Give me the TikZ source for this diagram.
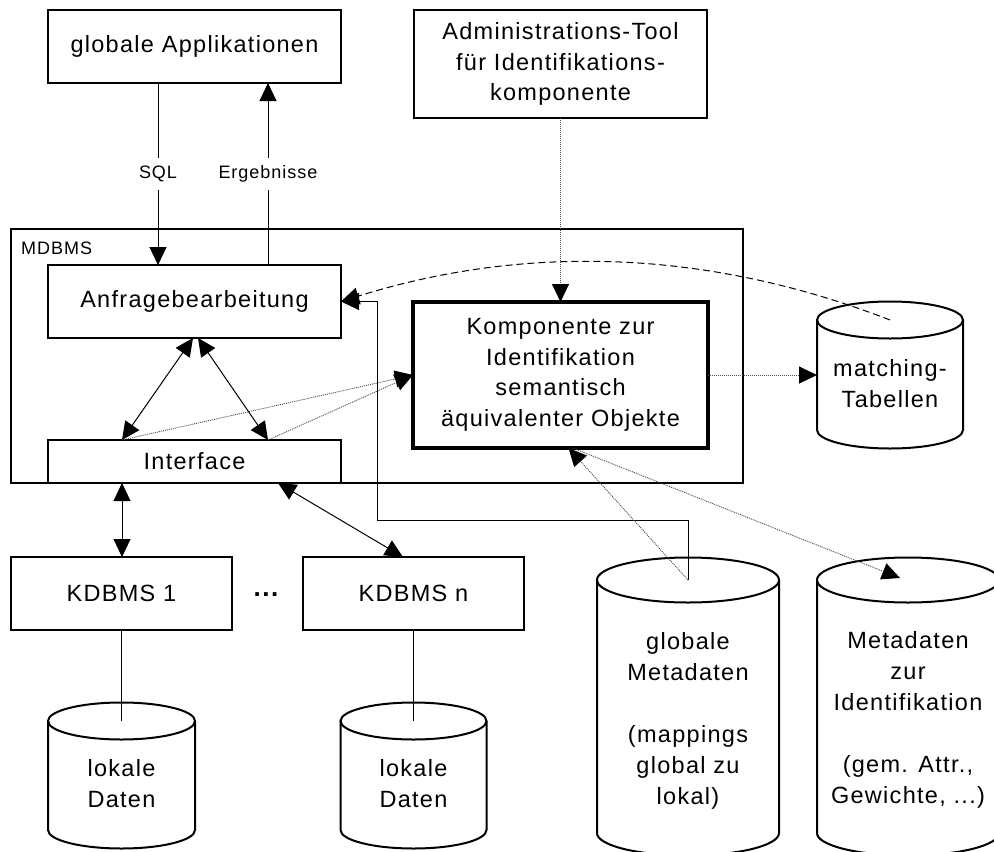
\documentclass[tikz,border=0pt]{standalone}
\usepackage{fontspec}
\setmainfont{Liberation Sans}[LetterSpace=5.5]
\usetikzlibrary{arrows.meta}

% cylinder: centre x, top ellipse y, bottom ellipse y, x radius, y radius
\newcommand\dbcylinder[5]{%
  \draw[dbline] (#1-#4,#2) -- (#1-#4,#3)
    arc[start angle=180,end angle=0,x radius=#4,y radius=#5] -- (#1+#4,#2);
  \draw[dbline] (#1,#2) ellipse[x radius=#4,y radius=#5];
}

\begin{document}
\begin{tikzpicture}[x=1pt,y=-1pt,
  >={Triangle[length=18pt,width=17pt,color=black]},
  box/.style={draw,line width=1.2pt,inner sep=0pt,outer sep=0pt,align=center,
    font=\fontsize{23.5}{30.5}\selectfont},
  frame/.style={draw,line width=1.2pt,inner sep=0pt,outer sep=0pt},
  dbtext/.style={align=center,inner sep=0pt,font=\fontsize{23.5}{31}\selectfont},
  lbl/.style={fill=white,inner xsep=3pt,inner ysep=8pt,font=\fontsize{18}{20}\selectfont},
  con/.style={line width=1pt},
  dotline/.style={line width=0.9pt,black!70,dash pattern=on 1pt off 1pt},
  dashline/.style={line width=1pt,dash pattern=on 7pt off 4pt},
  dbline/.style={line width=2pt}]
\clip (0,0) rectangle (994,852);

% boxes
\node[box,minimum width=293pt,minimum height=73pt] (gapp) at (194.5,46.5) {globale Applikationen};
\node[box,minimum width=293pt,minimum height=108pt] (admin) at (560.5,64)
  {Administrations-Tool\\für Identifikations-\\komponente};
\node[frame,minimum width=732pt,minimum height=254pt] (mdbms) at (377,356) {};
\node[anchor=base west,inner sep=0pt,font=\fontsize{18}{20}\selectfont] (mdbmslbl) at (21,254.5) {MDBMS};
\node[box,minimum width=293pt,minimum height=73pt] (anfrage) at (194.5,301.5) {Anfragebearbeitung};
\node[box,minimum width=293pt,minimum height=43pt] (iface) at (194.5,461.5) {Interface};
\node[box,line width=3.2pt,minimum width=295pt,minimum height=146pt] (komp) at (560.5,375)
  {Komponente zur\\Identifikation\\semantisch\\äquivalenter Objekte};
\node[box,minimum width=221pt,minimum height=73pt] (k1) at (121.5,593.5) {KDBMS 1};
\node[box,minimum width=221pt,minimum height=73pt] (kn) at (413.5,593.5) {KDBMS n};
\node[anchor=base,inner sep=0pt,font=\fontsize{26}{30}\bfseries] (dots) at (266,596) {...};

% data stores
\dbcylinder{121.5}{721}{830}{73.5}{18.5}
\dbcylinder{413.5}{721}{830}{73}{18.5}
\dbcylinder{890}{320}{430}{73}{18.5}
\dbcylinder{688}{580}{833}{91}{22.5}
\dbcylinder{908}{580}{833}{91}{22.5}

\node[dbtext] (ld1) at (121.5,784) {lokale\\Daten};
\node[dbtext] (ldn) at (413.5,784) {lokale\\Daten};
\node[dbtext] (mt) at (890,383.5) {matching-\\Tabellen};
\node[dbtext] (gm) at (688,721) {globale\\Metadaten\\[31pt](mappings\\global zu\\lokal)};
\node[dbtext] (mz) at (908,720) {Metadaten\\zur\\Identifikation\\[31pt](gem. Attr.,\\Gewichte, ...)};

% attachment points
\coordinate (sqlx) at (158,0);
\coordinate (ergx) at (268,0);
\coordinate (ilx) at (122,0);
\coordinate (irx) at (268,0);
\coordinate (ikx) at (278,0);
\coordinate (knx) at (403,0);
\coordinate (ld1top) at (121.5,721);
\coordinate (ldntop) at (413.5,721);
\coordinate (mttop) at (890,320);
\coordinate (mtleft) at (817,375);
\coordinate (gmtop) at (688,580);
\coordinate (mzarrow) at (900,578);
\coordinate (bus) at (377,520);

% connectors
\draw[con,->] (gapp.south -| sqlx) -- node[lbl] (sqllbl) {SQL} (anfrage.north -| sqlx);
\draw[con,->] (anfrage.north -| ergx) -- node[lbl] (erglbl) {Ergebnisse} (gapp.south -| ergx);
\draw[con,<->] ([xshift=-1.5pt]anfrage.south) -- (iface.north -| ilx);
\draw[con,<->] ([xshift=3.5pt]anfrage.south) -- (iface.north -| irx);
\draw[dotline,->] (iface.north -| ilx) -- (komp.west);
\draw[dotline,->] (iface.north -| irx) -- (komp.west);
\draw[con,<->] (iface.south -| ilx) -- (k1.north -| ilx);
\draw[con,<->] (iface.south -| ikx) -- (kn.north -| knx);
\draw[con] (k1.south) -- (ld1top);
\draw[con] (kn.south) -- (ldntop);
\draw[dotline,->] (admin.south) -- (komp.north);
\draw[dotline,->] (komp.east) -- (mtleft);
\draw[con,->] (gmtop) |- (bus) |- (anfrage.east);
\draw[dotline,->] (gmtop) -- ([xshift=8pt]komp.south);
\draw[dotline,->] ([xshift=12pt]komp.south) -- (mzarrow);
\draw[dashline,->] (mttop) .. controls (707,249) and (525,244) .. (anfrage.east);
\end{tikzpicture}
\end{document}
